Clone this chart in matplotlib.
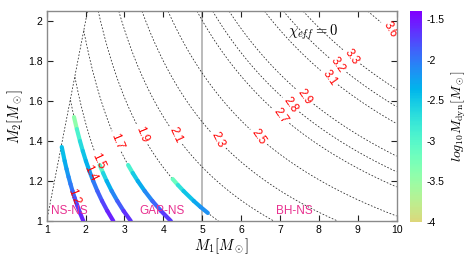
import numpy as np
import matplotlib
matplotlib.use("Agg")
import matplotlib.pyplot as plt
from matplotlib.collections import LineCollection
from matplotlib.colors import ListedColormap, Normalize
from matplotlib.cm import ScalarMappable

plt.rcParams['font.family'] = ['Liberation Sans', 'DejaVu Sans']
plt.rcParams['mathtext.fontset'] = 'cm'

# chirp-mass contour levels
levels = [1.2, 1.4, 1.5, 1.7, 1.9, 2.1, 2.3, 2.5, 2.7, 2.8, 2.9, 3.1, 3.2, 3.3, 3.6]
label_pos = [(1.64, 1.12), (2.03, 1.23), (2.24, 1.29), (2.71, 1.39), (3.35, 1.42),
             (4.25, 1.42), (5.33, 1.39), (6.36, 1.40), (7.0, 1.52), (7.25, 1.575),
             (7.6, 1.61), (8.24, 1.71), (8.45, 1.77), (8.8, 1.81), (9.83, 1.96)]
label_rot = [-70, -65, -65, -68, -68, -65, -63, -55, -55, -55, -55, -55, -55, -55, -60]

# tracks: (M1, M2, log10 Mdyn)
t1_m1 = [1.387, 1.462, 1.51, 1.562, 1.611, 1.663, 1.72, 1.781, 1.8575, 1.9415]
t1_m2 = [1.37, 1.30, 1.26, 1.22, 1.185, 1.15, 1.115, 1.08, 1.04, 1.0]
t1_v = [-2.5, -2.35, -2.25, -2.15, -2.05, -1.95, -1.85, -1.75, -1.65, -1.55]

t2_m1 = [1.702, 1.775, 1.855, 1.928, 2.008, 2.097, 2.196, 2.3025, 2.424, 2.56, 2.713]
t2_m2 = [1.52, 1.46, 1.40, 1.35, 1.30, 1.25, 1.20, 1.15, 1.10, 1.05, 1.0]
t2_v = [-3.75, -3.1, -2.75, -2.55, -2.4, -2.25, -2.1, -1.95, -1.8, -1.65, -1.5]

t3_m1 = [2.363, 2.45, 2.543, 2.672, 2.817, 2.979, 3.162]
t3_m2 = [1.28, 1.24, 1.20, 1.15, 1.10, 1.05, 1.0]
t3_v = [-3.3, -2.75, -2.45, -2.2, -1.95, -1.75, -1.55]

t4_m1 = [3.094, 3.213, 3.342, 3.52, 3.718, 3.941, 4.193]
t4_m2 = [1.28, 1.24, 1.20, 1.15, 1.10, 1.05, 1.0]
t4_v = [-3.15, -2.65, -2.4, -2.2, -2.0, -1.8, -1.6]

t5_m1 = [4.239, 4.375, 4.519, 4.783, 4.957, 5.144]
t5_m2 = [1.21, 1.18, 1.15, 1.10, 1.07, 1.04]
t5_v = [-3.45, -2.85, -2.6, -2.35, -2.2, -2.1]

tracks = [(t1_m1, t1_m2, t1_v), (t2_m1, t2_m2, t2_v), (t3_m1, t3_m2, t3_v),
          (t4_m1, t4_m2, t4_v), (t5_m1, t5_m2, t5_v)]

region_labels = ["NS-NS", "GAP-NS", "BH-NS"]
region_x = [1.59, 3.96, 7.36]
region_y = [1.052, 1.052, 1.052]

cb_ticks = [-4, -3.5, -3, -2.5, -2, -1.5]
cb_ticklabels = ["-4", "-3.5", "-3", "-2.5", "-2", "-1.5"]
vmin, vmax = -4.0, -1.4

cmap = ListedColormap(plt.cm.rainbow(np.linspace(0.68, 0.0, 256)))
norm = Normalize(vmin, vmax)

fig = plt.figure(figsize=(4.69, 2.64), dpi=100)
ax = fig.add_axes([0.0996, 0.163, 0.746, 0.795])

m1 = np.linspace(1, 10, 700)
m2 = np.linspace(1, 2.05, 400)
M1, M2 = np.meshgrid(m1, m2)
Mc = (M1 * M2) ** 0.6 / (M1 + M2) ** 0.2
Mc = np.where(M1 >= M2, Mc, np.nan)

cs = ax.contour(M1, M2, Mc, levels=levels, colors='#222222', linewidths=0.55,
                linestyles='dashed')
cs.set_linestyle((0, (2.2, 2.2)))
# diagonal boundary m1 = m2
ax.plot([1, 2.05], [1, 2.05], color='#222222', lw=0.55, ls=(0, (2.2, 2.2)))

txts = cs.clabel(manual=label_pos, inline=True, inline_spacing=3,
                 fmt='%.1f', fontsize=8.5, colors='red')
for t, r in zip(txts, label_rot):
    t.set_zorder(6)
    t.set_rotation(r)

ax.axvline(5, color='#a8a8a8', lw=1.1, zorder=1.5)

for xs, ys, vs in tracks:
    pts = np.column_stack([xs, ys])
    segs = np.stack([pts[:-1], pts[1:]], axis=1)
    vals = 0.5 * (np.array(vs[:-1]) + np.array(vs[1:]))
    lc = LineCollection(segs, cmap=cmap, norm=norm, linewidths=3.0,
                        capstyle='round', joinstyle='round', zorder=4)
    lc.set_array(vals)
    ax.add_collection(lc)

for lab, x, y in zip(region_labels, region_x, region_y):
    ax.text(x, y, lab, color='#e8308f', fontsize=8.5, ha='center', va='center', zorder=7)

ax.text(7.85, 1.945, r'$\chi_{eff}=0$', fontsize=10.5, ha='center', va='center', zorder=7)

ax.set_xlim(1, 10)
ax.set_ylim(1, 2.05)
ax.set_xticks(range(1, 11))
ax.set_yticks([1, 1.2, 1.4, 1.6, 1.8, 2])
ax.set_yticklabels(['1', '1.2', '1.4', '1.6', '1.8', '2'])
ax.tick_params(direction='in', top=True, right=True, length=4, width=0.8,
               labelsize=7.5, color='#222222', pad=3)
for s in ax.spines.values():
    s.set_color('#8a8a8a')
    s.set_linewidth(1.0)
ax.set_xlabel(r'$M_1[M_\odot]$', fontsize=10.5, labelpad=1)
ax.set_ylabel(r'$M_2[M_\odot]$', fontsize=10.5, labelpad=2)

cax = fig.add_axes([0.874, 0.159, 0.0256, 0.799])
sm = ScalarMappable(norm=norm, cmap=cmap)
cb = fig.colorbar(sm, cax=cax)
cb.outline.set_visible(False)
cb.set_ticks(cb_ticks)
cb.set_ticklabels(cb_ticklabels)
cax.tick_params(length=0, labelsize=7.5, pad=3)
cb.set_label(r'$log_{10}M_{\rm dyn}[M_\odot]$', fontsize=10, labelpad=4)

fig.savefig('out.png', dpi=100)
